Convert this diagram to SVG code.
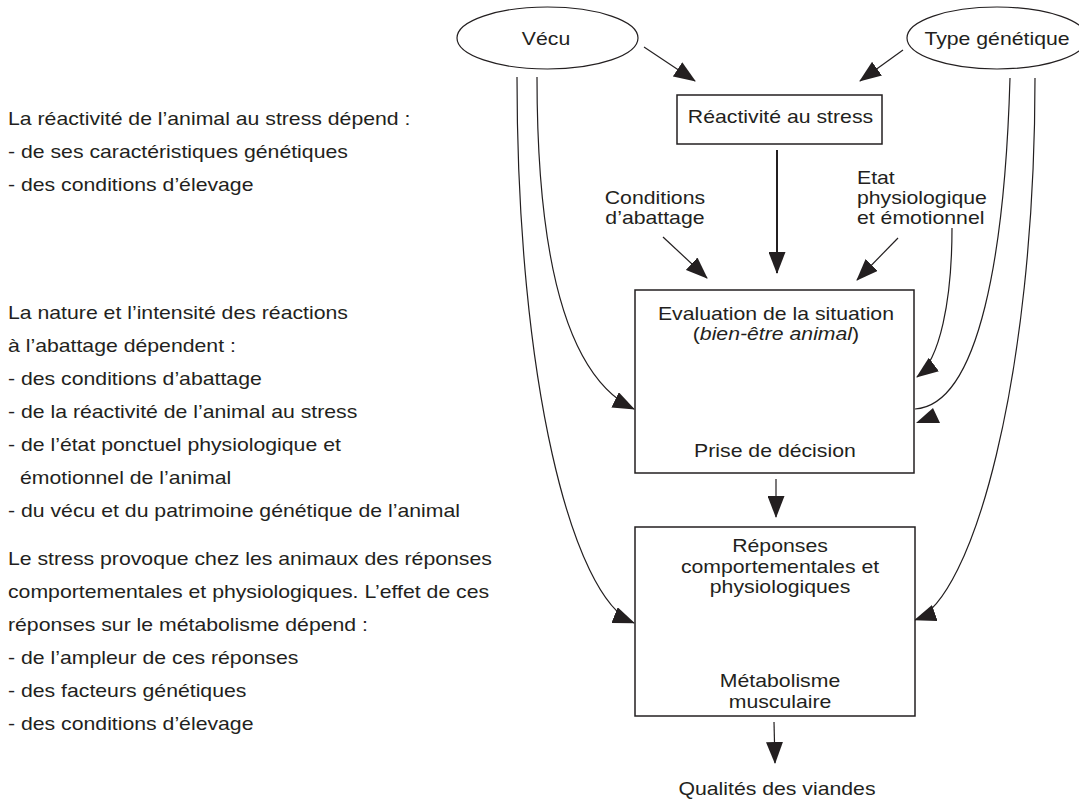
<svg xmlns="http://www.w3.org/2000/svg" width="1079" height="802" viewBox="0 0 1079 802">
<style>
.t{font-family:"Liberation Sans",Arial,Helvetica,sans-serif;font-size:18.8px;fill:#231f20}
.c{text-anchor:middle}
.box{fill:#fff;stroke:#231f20;stroke-width:1.5}
.ell{fill:#fff;stroke:#231f20;stroke-width:1.2}
.ln{fill:none;stroke:#231f20;stroke-width:1.2;marker-end:url(#ah)}
.thin{fill:none;stroke:#231f20;stroke-width:1.2}
.thk{stroke-width:2}
.head{fill:#231f20}
</style>
<defs>
<marker id="ah" markerUnits="userSpaceOnUse" markerWidth="22" markerHeight="17" refX="21" refY="8.5" orient="auto" viewBox="0 0 22 17">
<path d="M0,0 L22,8.5 L0,17 z" fill="#231f20"/>
</marker>
</defs>
<rect width="1079" height="802" fill="#fff"/>

<g id="notes" class="t" transform="scale(1.13,1)">
<text x="7.08" y="125">La réactivité de l’animal au stress dépend :</text>
<text x="7.08" y="158">- de ses caractéristiques génétiques</text>
<text x="7.08" y="191">- des conditions d’élevage</text>
<text x="7.08" y="319">La nature et l’intensité des réactions</text>
<text x="7.08" y="352">à l’abattage dépendent :</text>
<text x="7.08" y="385">- des conditions d’abattage</text>
<text x="7.08" y="418">- de la réactivité de l’animal au stress</text>
<text x="7.08" y="451">- de l’état ponctuel physiologique et</text>
<text x="17.7" y="484">émotionnel de l’animal</text>
<text x="7.08" y="517">- du vécu et du patrimoine génétique de l’animal</text>
<text x="7.08" y="565">Le stress provoque chez les animaux des réponses</text>
<text x="7.08" y="598">comportementales et physiologiques. L’effet de ces</text>
<text x="7.08" y="631">réponses sur le métabolisme dépend :</text>
<text x="7.08" y="664">- de l’ampleur de ces réponses</text>
<text x="7.08" y="697">- des facteurs génétiques</text>
<text x="7.08" y="730">- des conditions d’élevage</text>
</g>

<g id="connectors">
<path class="ln" d="M644,47 L695,81"/>
<path class="ln" d="M903,50 L860,81"/>
<path class="ln thk" d="M777,150 L777,273"/>
<path class="ln" d="M663,237 L707,278"/>
<path class="ln" d="M898,238 L857,280"/>
<path class="ln" d="M537,77 C537,280 574,380 634,409"/>
<path class="ln" d="M517,77 C517,380 572,598 634,623"/>
<path class="ln" d="M952,228 C952,300 940,360 917,377"/>
<path class="thin" d="M1010,78 C1005,250 980,405 915,409"/>
<polygon class="head" points="916,423 933,408 940,423"/>
<path class="ln" d="M1035,78 C1035,380 972,600 915,620"/>
<path class="ln thk" d="M777,353 L777,422"/>
<path class="ln" d="M776,479 L776,517"/>
<path class="ln" d="M777,605 L777,653"/>
<path class="ln" d="M774,722 L775,763"/>
</g>

<g id="vecu">
<ellipse class="ell" cx="547.5" cy="38" rx="90.5" ry="31"/>
<text class="t c" transform="scale(1.13,1)" x="483.2" y="45">Vécu</text>
</g>

<g id="type-genetique">
<ellipse class="ell" cx="997" cy="38" rx="90" ry="31"/>
<text class="t c" transform="scale(1.13,1)" x="882.3" y="45">Type génétique</text>
</g>

<g id="reactivite">
<rect class="box" x="677" y="95" width="205" height="49"/>
<text class="t c" transform="scale(1.13,1)" x="690.7" y="123">Réactivité au stress</text>
</g>

<g id="conditions" class="t c" transform="scale(1.13,1)">
<text x="579.6" y="204">Conditions</text>
<text x="579.6" y="224">d’abattage</text>
</g>

<g id="etat" class="t" transform="scale(1.13,1)">
<text x="758.4" y="184">Etat</text>
<text x="758.4" y="204">physiologique</text>
<text x="758.4" y="224">et émotionnel</text>
</g>

<g id="evaluation">
<rect class="box" x="635" y="290" width="279" height="183"/>
<g class="t c" transform="scale(1.13,1)">
<text x="686.7" y="320">Evaluation de la situation</text>
<text x="686.7" y="340">(<tspan font-style="italic">bien-être animal</tspan>)</text>
<text x="685.8" y="457">Prise de décision</text>
</g>
</g>

<g id="reponses">
<rect class="box" x="635" y="527" width="280" height="189"/>
<g class="t c" transform="scale(1.13,1)">
<text x="690.3" y="552">Réponses</text>
<text x="690.3" y="573">comportementales et</text>
<text x="690.3" y="593">physiologiques</text>
<text x="690.3" y="687">Métabolisme</text>
<text x="690.3" y="708">musculaire</text>
</g>
</g>

<g id="qualites">
<text class="t c" transform="scale(1.13,1)" x="687.6" y="795">Qualités des viandes</text>
</g>
</svg>
